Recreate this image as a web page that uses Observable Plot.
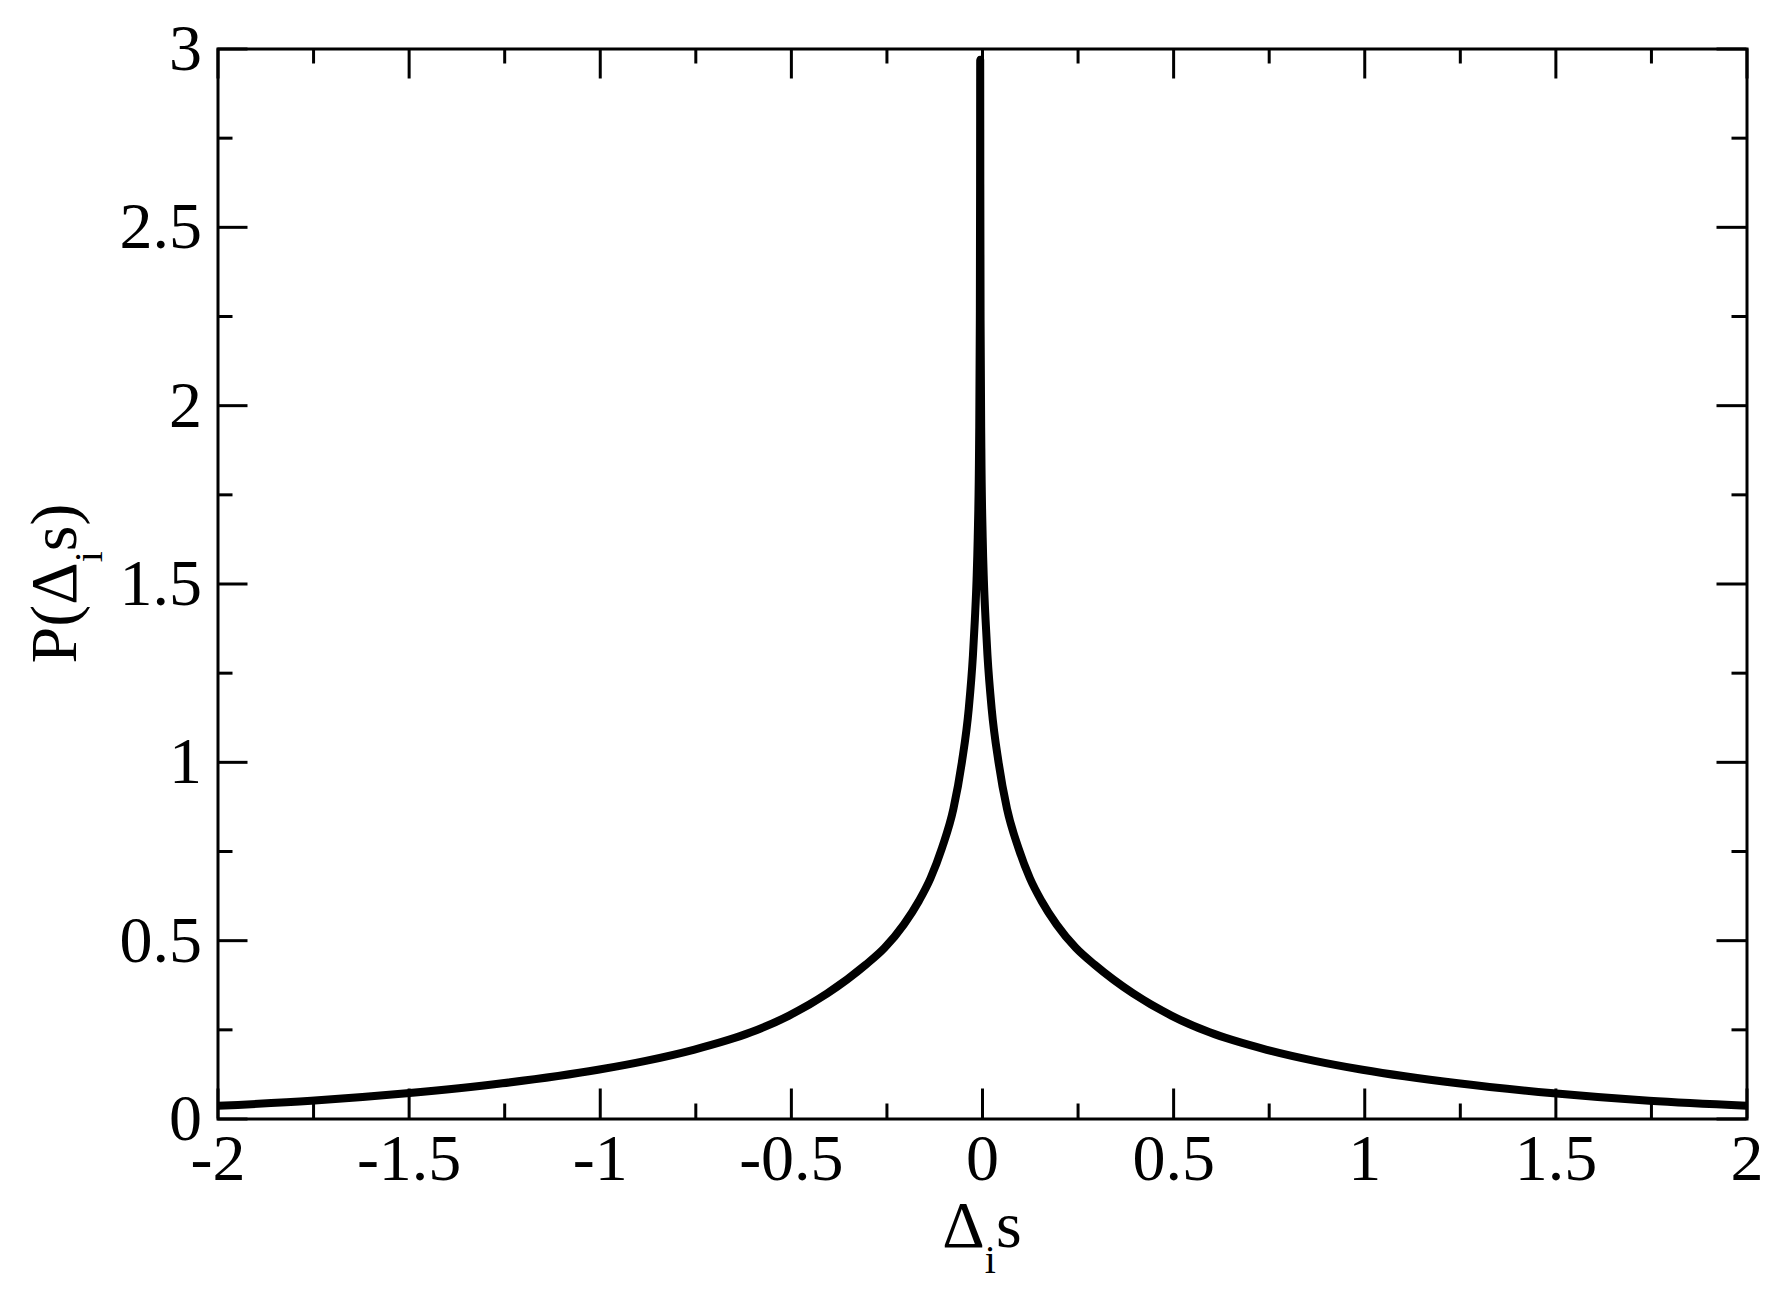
<!DOCTYPE html>
<html>
<head>
<meta charset="utf-8">
<script src="https://cdn.jsdelivr.net/npm/d3@7"></script>
<script src="https://cdn.jsdelivr.net/npm/@observablehq/plot@0.6"></script>
<style>
  html, body { margin: 0; padding: 0; background: #fff; }
  svg { display: block; }
</style>
</head>
<body>
<div id="chart"></div>
<script>
// Curve values
const deltaS = [
  -2.0, -1.756, -1.506, -1.256, -1.006, -0.881, -0.756, -0.606, -0.506, -0.406, -0.306, -0.256,
  -0.206, -0.166, -0.136, -0.106, -0.076, -0.054, -0.036, -0.025, -0.020, -0.0156, -0.0125,
  -0.009, -0.007, -0.0063, -0.006,
  -0.0057, -0.005, -0.003, 0.0005, 0.0036, 0.008, 0.013, 0.024, 0.042, 0.064, 0.094, 0.124,
  0.154, 0.194, 0.244, 0.294, 0.394, 0.494, 0.594, 0.744, 0.869, 0.994, 1.244, 1.494, 1.744, 2.0
];
const probability = [
  0.037, 0.051, 0.072, 0.100, 0.138, 0.163, 0.194, 0.243, 0.290, 0.352, 0.432, 0.480,
  0.545, 0.612, 0.675, 0.760, 0.870, 1.000, 1.150, 1.300, 1.400, 1.510, 1.630,
  1.880, 2.240, 2.620, 2.970,
  2.620, 2.240, 1.880, 1.630, 1.510, 1.400, 1.300, 1.150, 1.000, 0.870, 0.760, 0.675,
  0.612, 0.545, 0.480, 0.432, 0.352, 0.290, 0.243, 0.194, 0.163, 0.138, 0.100, 0.072, 0.051, 0.037
];
const xMajorTicks = [-2, -1.5, -1, -0.5, 0, 0.5, 1, 1.5, 2];
const xMinorTicks = [-1.75, -1.25, -0.75, -0.25, 0.25, 0.75, 1.25, 1.75];
const yMajorTicks = [0, 0.5, 1, 1.5, 2, 2.5, 3];
const yMinorTicks = [0.25, 0.75, 1.25, 1.75, 2.25, 2.75];

const curve = deltaS.map((x, i) => ({x, y: probability[i]}));

const W = 1787, H = 1290;
const mL = 217.5, mR = 40.5, mT = 48.5, mB = 171.5;
const frameW = W - mL - mR, frameH = H - mT - mB;
const MAJ = 30, MIN = 15, TW = 3;
const fontFamily = "'Liberation Serif', 'Times New Roman', Times, serif";
const fontSize = 66;

// inward ticks on all four sides, as rules shortened by insets
const tick = {stroke: "black", strokeWidth: TW};
const ticksX = (data, len) => [
  Plot.ruleX(data, {x: d => d, insetTop: frameH - len, ...tick}),
  Plot.ruleX(data, {x: d => d, insetBottom: frameH - len, ...tick})
];
const ticksY = (data, len) => [
  Plot.ruleY(data, {y: d => d, insetRight: frameW - len, ...tick}),
  Plot.ruleY(data, {y: d => d, insetLeft: frameW - len, ...tick})
];

const chart = Plot.plot({
  width: W,
  height: H,
  marginLeft: mL,
  marginRight: mR,
  marginTop: mT,
  marginBottom: mB,
  style: {fontFamily, fontSize: fontSize + "px", background: "white", color: "black", overflow: "visible"},
  x: {domain: [-2, 2]},
  y: {domain: [0, 3]},
  marks: [
    Plot.line(curve, {x: "x", y: "y", stroke: "black", strokeWidth: 8, curve: "monotone-x", strokeLinejoin: "round", strokeLinecap: "butt"}),
    ...ticksX(xMajorTicks, MAJ),
    ...ticksX(xMinorTicks, MIN),
    ...ticksY(yMajorTicks, MAJ),
    ...ticksY(yMinorTicks, MIN),
    Plot.axisX({ticks: xMajorTicks, anchor: "bottom", tickSize: 0, tickPadding: 14, tickFormat: d => String(d), label: null, fontSize, fill: "black"}),
    Plot.axisY({ticks: yMajorTicks, anchor: "left", tickSize: 0, tickPadding: 16, tickFormat: d => String(d), label: null, fontSize, fill: "black"}),
    Plot.frame({stroke: "black", strokeWidth: TW})
  ]
});

document.getElementById("chart").appendChild(chart);

// Axis titles with subscript i
const svg = d3.select(chart);
const xs = chart.scale("x"), ys = chart.scale("y");
const cx = xs.apply(0);
const cy = (ys.apply(0) + ys.apply(3)) / 2;
const subSize = 40, subShift = 26;

function addLabel(g, pre, post) {
  g.append("tspan").text(pre);
  g.append("tspan").attr("font-size", subSize).attr("dy", subShift).text("i");
  g.append("tspan").attr("dy", -subShift).text(post);
}

const xl = svg.append("text")
  .attr("x", cx).attr("y", 1246.7)
  .attr("text-anchor", "middle")
  .attr("font-family", fontFamily).attr("font-size", fontSize).attr("fill", "black");
addLabel(xl, "Δ", "s");

const yl = svg.append("text")
  .attr("transform", `translate(76,${cy}) rotate(-90)`)
  .attr("text-anchor", "middle")
  .attr("font-family", fontFamily).attr("font-size", fontSize).attr("fill", "black");
addLabel(yl, "P(Δ", "s)");
</script>
</body>
</html>
